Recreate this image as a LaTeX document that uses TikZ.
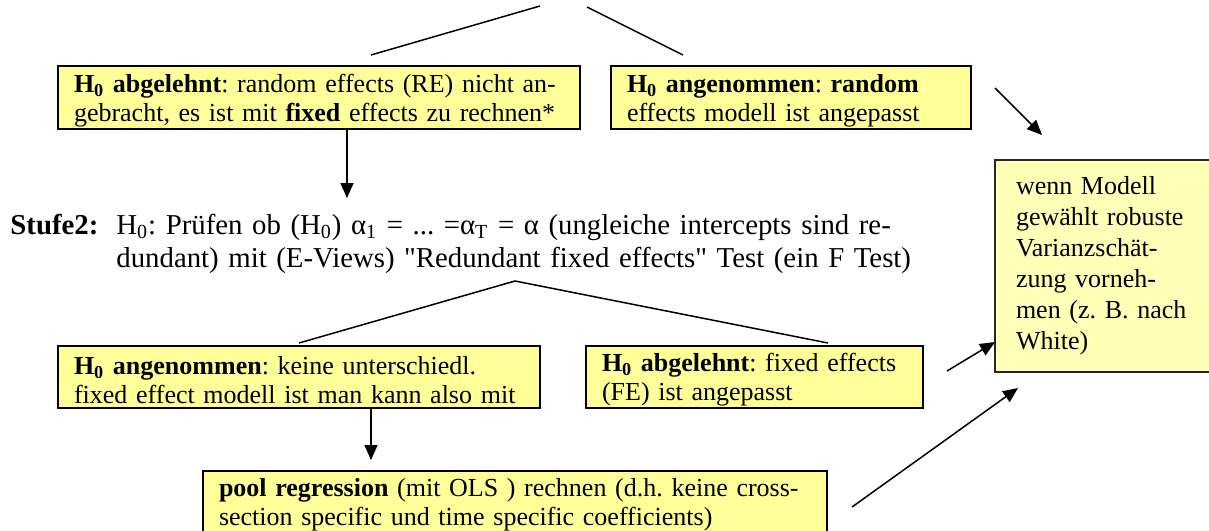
\documentclass[tikz,border=0pt]{standalone}
\usepackage{fontspec}
\setmainfont{Liberation Serif}[Ligatures=TeXOff]
\usetikzlibrary{arrows.meta}
\definecolor{boxyellow}{HTML}{FFFF99}
\definecolor{boxlight}{HTML}{FFFFB8}
\newcommand{\topstrut}{\rule{0pt}{12pt}}
\begin{document}
\frenchspacing
\begin{tikzpicture}[x=0.5pt,y=-0.5pt,
  box/.style={draw=black, line width=1.3pt, fill=boxyellow, anchor=north west,
    outer sep=0pt, inner xsep=8pt, inner ysep=0pt, align=left,
    font=\fontsize{13}{14.5}\selectfont},
  con/.style={line width=0.75pt},
  arr/.style={con, -{Triangle[length=7.5pt,width=6.5pt]}},
  big/.style={font=\fontsize{14.4}{16.5}\selectfont, inner sep=0pt}]
\useasboundingbox (0,0) rectangle (1209,530);
\clip (0,0) rectangle (1209,530);

% level 1 boxes
\node[box, text width=245pt, minimum height=31.5pt] (A) at (58,66)
  {\topstrut\textbf{H\textsubscript{0} abgelehnt}: random effects (RE) nicht an-\\gebracht, es ist mit \textbf{fixed} effects zu rechnen*};
\node[box, text width=164pt, minimum height=31.5pt] (B) at (611,66)
  {\topstrut\textbf{H\textsubscript{0} angenommen}: \textbf{random}\\effects modell ist angepasst};

% Stufe 2
\node[big, font=\fontsize{14.4}{16.5}\selectfont\bfseries, anchor=base west] (S2lab) at (10,234) {Stufe2:};
\node[big, anchor=base west, text width=401pt, align=left] (S2) at (116,234)
  {\makebox[401pt][s]{H\textsubscript{0}: Prüfen ob (H\textsubscript{0}) α\textsubscript{1} = ... =α\textsubscript{T} = α (ungleiche intercepts sind re-}\\dundant) mit (E-Views) "Redundant fixed effects" Test (ein F Test)};

% level 2 boxes
\node[box, text width=225pt, minimum height=31pt] (D) at (58,346)
  {\topstrut\textbf{H\textsubscript{0} angenommen}: keine unterschiedl.\\fixed effect modell ist man kann also mit};
\node[box, text width=152.5pt, minimum height=31pt] (E) at (586,346)
  {\topstrut\textbf{H\textsubscript{0} abgelehnt}: fixed effects\\(FE) ist angepasst};
\node[box, text width=296pt, minimum height=31pt] (F) at (203,471)
  {\topstrut\makebox[292pt][s]{\textbf{pool regression} (mit OLS ) rechnen (d.h. keine cross-}\\section specific und time specific coefficients)};

% right box
\node[box, fill=boxlight, draw=black!85, line width=1pt, text width=95pt,
  inner xsep=10.5pt, minimum height=106pt, font=\fontsize{13}{15.5}\selectfont] (C) at (995,160)
  {wenn Modell\\gewählt robuste\\Varianzschät-\\zung vorneh-\\men (z. B. nach\\White)};

% coordinates
\coordinate (t1) at (540,6);
\coordinate (t2) at (587,7);
\coordinate (a1) at (371,55);
\coordinate (b1) at (683,55);
\coordinate (a2) at (347,198);
\coordinate (apex) at (515,281);
\coordinate (d1) at (299,343);
\coordinate (e1) at (828,343);
\coordinate (f1) at (371,460);
\coordinate (bc1) at (995,88);
\coordinate (bc2) at (1042,135);
\coordinate (ec1) at (947,371);
\coordinate (ec2) at (995,342);
\coordinate (fc1) at (852,507);
\coordinate (fc2) at (1018,388);

% connectors
\draw[con] (t1) -- (a1);
\draw[con] (t2) -- (b1);
\draw[arr] (A.south -| a2) -- (a2);
\draw[con] (d1) -- (apex) -- (e1);
\draw[arr] (D.south -| f1) -- (f1);
\draw[arr] (bc1) -- (bc2);
\draw[arr] (ec1) -- (ec2);
\draw[arr] (fc1) -- (fc2);
\end{tikzpicture}
\end{document}
